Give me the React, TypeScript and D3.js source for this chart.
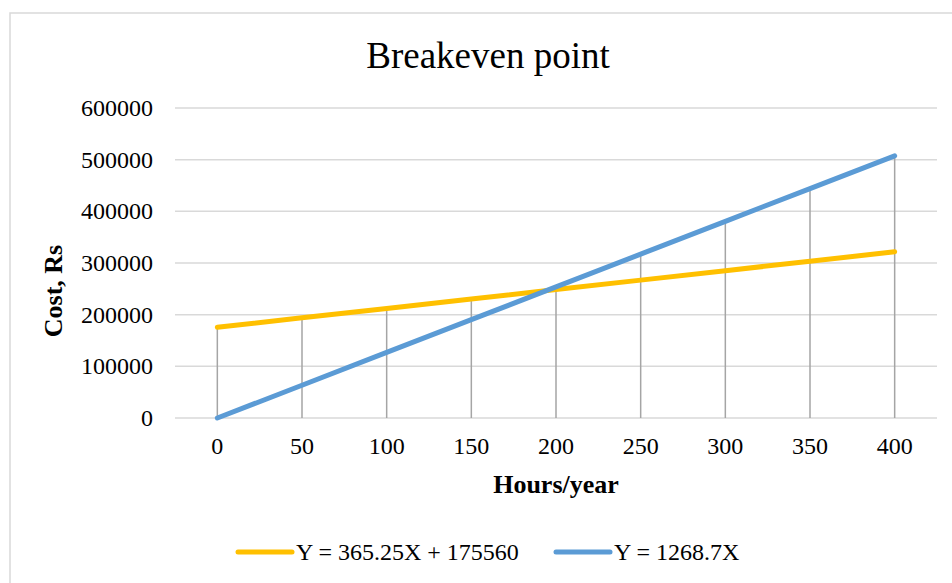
import * as d3 from "d3";

const hours = ["0", "50", "100", "150", "200", "250", "300", "350", "400"];
const totalCost = [175560, 193822.5, 212085, 230347.5, 248610, 266872.5, 285135, 303397.5, 321660];
const revenue = [0, 63435, 126870, 190305, 253740, 317175, 380610, 444045, 507480];
const yTicks = [0, 100000, 200000, 300000, 400000, 500000, 600000];

const SERIES = [
  { name: "Y = 365.25X + 175560", values: totalCost, color: "#FFC000" },
  { name: "Y = 1268.7X", values: revenue, color: "#5B9BD5" },
];

const W = 952;
const H = 583;
const FONT = "'Liberation Serif', 'Times New Roman', serif";

export default function App() {
  const x = d3.scaleBand<string>().domain(hours).range([175, 937]);
  const y = d3.scaleLinear().domain([0, 600000]).range([418, 108]);
  const cx = (h: string) => (x(h) ?? 0) + x.bandwidth() / 2;

  const line = d3
    .line<number>()
    .x((_, i) => cx(hours[i]))
    .y((d) => y(d));

  const legendX = [238, 556];

  return (
    <svg
      width={W}
      height={H}
      style={{ position: "fixed", left: 0, top: 0, background: "#fff" }}
      fontFamily={FONT}
    >
      {/* chart frame, runs off the right/bottom edge */}
      <rect x={10} y={13} width={1000} height={700} fill="#fff" stroke="#d9d9d9" strokeWidth={1.5} />

      <text x={488} y={68} textAnchor="middle" fontSize={37} fill="#000">
        Breakeven point
      </text>

      {/* gridlines + y labels */}
      {yTicks.map((t) => (
        <g key={t}>
          <line x1={175} x2={937} y1={y(t)} y2={y(t)} stroke="#d9d9d9" strokeWidth={1.5} />
          <text x={153} y={y(t) + 8} textAnchor="end" fontSize={24} fill="#000">
            {t}
          </text>
        </g>
      ))}

      {/* drop lines */}
      {hours.map((h, i) => (
        <line
          key={h}
          x1={cx(h)}
          x2={cx(h)}
          y1={y(0)}
          y2={y(Math.max(totalCost[i], revenue[i]))}
          stroke="#a5a5a5"
          strokeWidth={1.5}
        />
      ))}

      {/* x labels */}
      {hours.map((h) => (
        <text key={h} x={cx(h)} y={454} textAnchor="middle" fontSize={24} fill="#000">
          {h}
        </text>
      ))}

      {SERIES.map((s) => (
        <path
          key={s.name}
          d={line(s.values) ?? ""}
          fill="none"
          stroke={s.color}
          strokeWidth={5}
          strokeLinecap="round"
          strokeLinejoin="round"
        />
      ))}

      <text x={556} y={493} textAnchor="middle" fontSize={26} fontWeight="bold" fill="#000">
        Hours/year
      </text>
      <text
        transform="translate(62,291) rotate(-90)"
        textAnchor="middle"
        fontSize={26}
        fontWeight="bold"
        fill="#000"
      >
        Cost, Rs
      </text>

      {/* legend */}
      {SERIES.map((s, i) => (
        <g key={s.name}>
          <line
            x1={legendX[i]}
            x2={legendX[i] + 54}
            y1={552}
            y2={552}
            stroke={s.color}
            strokeWidth={5}
            strokeLinecap="round"
          />
          <text x={legendX[i] + 58} y={560} fontSize={24} fill="#000">
            {s.name}
          </text>
        </g>
      ))}
    </svg>
  );
}
